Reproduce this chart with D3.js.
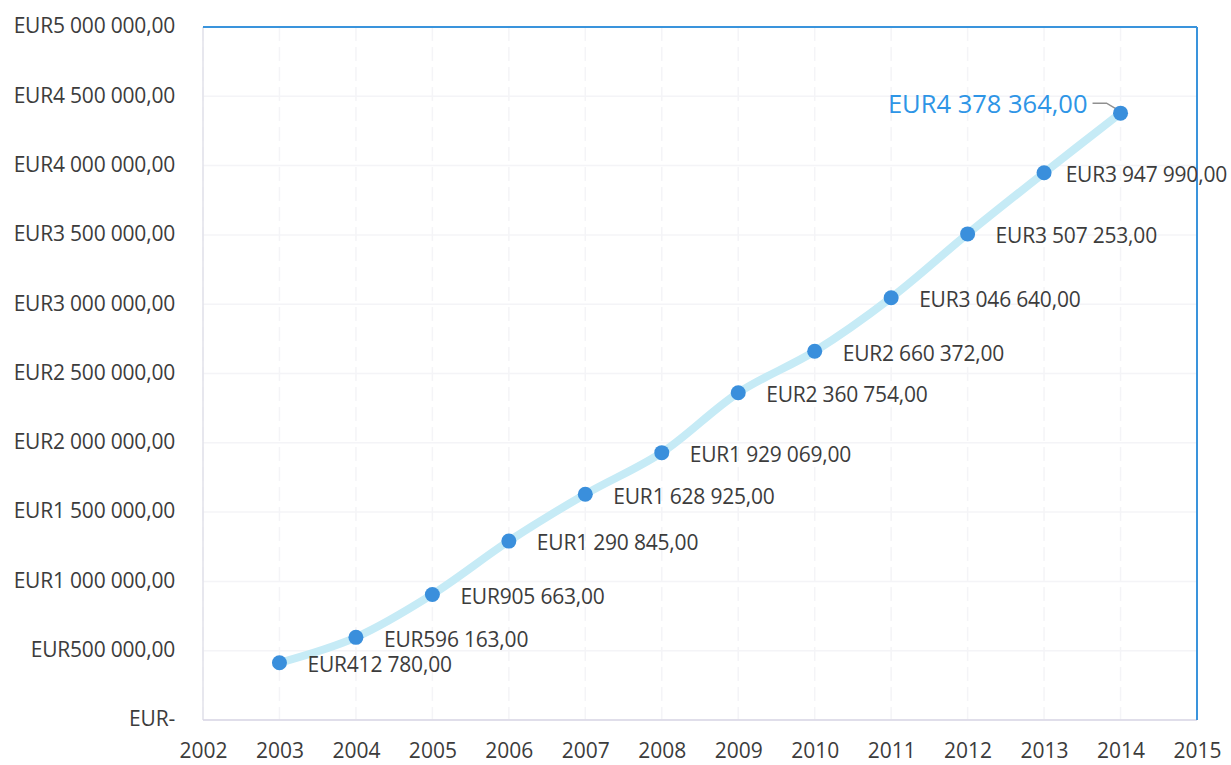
<!DOCTYPE html>
<html lang="en">
<head>
  <meta charset="UTF-8">
  <title>EUR</title>
  <script src="https://d3js.org/d3.v7.min.js" charset="utf-8"></script>
  <style>
    body { margin: 0; background: #fff; }
  </style>
</head>
<body>
  <div id="wrapper"></div>
  <script>
    const years = [2003, 2004, 2005, 2006, 2007, 2008, 2009, 2010, 2011, 2012, 2013, 2014]
    const values = [412780, 596163, 905663, 1290845, 1628925, 1929069, 2360754, 2660372, 3046640, 3507253, 3947990, 4378364]
    const xTicks = [2002, 2003, 2004, 2005, 2006, 2007, 2008, 2009, 2010, 2011, 2012, 2013, 2014, 2015]
    const yTicks = [0, 500000, 1000000, 1500000, 2000000, 2500000, 3000000, 3500000, 4000000, 4500000, 5000000]

    const dataset = years.map((y, i) => ({ year: y, value: values[i] }))

    const fmt = v => {
      if (v === 0) return 'EUR-'
      const s = Math.round(v).toString().replace(/\B(?=(\d{3})+(?!\d))/g, ' ')
      return 'EUR' + s + ',00'
    }

    const dimensions = {
      width: 1231,
      height: 765,
      margin: { top: 27, right: 34, bottom: 45, left: 203 },
    }
    dimensions.boundedWidth = dimensions.width - dimensions.margin.left - dimensions.margin.right
    dimensions.boundedHeight = dimensions.height - dimensions.margin.top - dimensions.margin.bottom

    const wrapper = d3.select('#wrapper')
      .append('svg')
        .attr('width', dimensions.width)
        .attr('height', dimensions.height)
        .style('font-family', '"Open Sans", "Noto Sans", sans-serif')

    const bounds = wrapper.append('g')
      .attr('transform', `translate(${dimensions.margin.left}, ${dimensions.margin.top})`)

    const xScale = d3.scaleLinear()
      .domain([2002, 2015])
      .range([0, dimensions.boundedWidth])

    const yScale = d3.scaleLinear()
      .domain([0, 5000000])
      .range([dimensions.boundedHeight, 0])

    // grid (very faint)
    bounds.append('g').selectAll('line')
      .data(yTicks)
      .join('line')
        .attr('x1', 0).attr('x2', dimensions.boundedWidth)
        .attr('y1', d => yScale(d)).attr('y2', d => yScale(d))
        .attr('stroke', '#f4f4f7')
        .attr('stroke-width', 1.5)

    bounds.append('g').selectAll('line')
      .data(xTicks)
      .join('line')
        .attr('x1', d => xScale(d)).attr('x2', d => xScale(d))
        .attr('y1', 0).attr('y2', dimensions.boundedHeight)
        .attr('stroke', '#f4f4f7')
        .attr('stroke-width', 1.5)
        .attr('stroke-dasharray', '14 6')

    // frame: left/bottom faint, top/right blue
    bounds.append('line')
      .attr('x1', 0).attr('x2', 0).attr('y1', 0).attr('y2', dimensions.boundedHeight)
      .attr('stroke', '#e2e2ea').attr('stroke-width', 1.5)
    bounds.append('line')
      .attr('x1', 0).attr('x2', dimensions.boundedWidth)
      .attr('y1', dimensions.boundedHeight).attr('y2', dimensions.boundedHeight)
      .attr('stroke', '#d8d6e4').attr('stroke-width', 1.5)
    bounds.append('line')
      .attr('x1', 0).attr('x2', dimensions.boundedWidth).attr('y1', 0).attr('y2', 0)
      .attr('stroke', '#3a94dc').attr('stroke-width', 2)
    bounds.append('line')
      .attr('x1', dimensions.boundedWidth).attr('x2', dimensions.boundedWidth)
      .attr('y1', 0).attr('y2', dimensions.boundedHeight)
      .attr('stroke', '#3a94dc').attr('stroke-width', 2)

    // axes
    const yAxis = bounds.append('g')
      .call(d3.axisLeft(yScale).tickValues(yTicks).tickFormat(fmt).tickSize(0).tickPadding(28))
    yAxis.select('.domain').remove()
    yAxis.selectAll('text')
      .attr('font-size', 21)
      .attr('fill', '#3c3c3c')
      .attr('letter-spacing', -0.2)
      .attr('dy', '0.28em')
      .style('font-family', '"Open Sans", "Noto Sans", sans-serif')

    const xAxis = bounds.append('g')
      .attr('transform', `translate(0, ${dimensions.boundedHeight})`)
      .call(d3.axisBottom(xScale).tickValues(xTicks).tickFormat(d3.format('d')).tickSize(0).tickPadding(23))
    xAxis.select('.domain').remove()
    xAxis.selectAll('text')
      .attr('font-size', 21)
      .attr('fill', '#3c3c3c')
      .style('font-family', '"Open Sans", "Noto Sans", sans-serif')

    // line
    const lineGenerator = d3.line()
      .x(d => xScale(d.year))
      .y(d => yScale(d.value))
      .curve(d3.curveCatmullRom.alpha(0.5))

    bounds.append('path')
      .attr('d', lineGenerator(dataset))
      .attr('fill', 'none')
      .attr('stroke', '#c6ebf6')
      .attr('stroke-width', 8)
      .attr('stroke-linecap', 'round')

    // leader line for last label
    const last = dataset[dataset.length - 1]
    const lx = xScale(last.year), ly = yScale(last.value)
    bounds.append('path')
      .attr('d', `M${lx - 28},${ly - 10} L${lx - 14},${ly - 10} L${lx - 4},${ly - 4}`)
      .attr('fill', 'none')
      .attr('stroke', '#909090')
      .attr('stroke-width', 1.5)

    // points
    bounds.append('g').selectAll('circle')
      .data(dataset)
      .join('circle')
        .attr('cx', d => xScale(d.year))
        .attr('cy', d => yScale(d.value))
        .attr('r', 7.5)
        .attr('fill', '#3a8fdc')

    // labels, kept inside the page on the right
    const maxRight = dimensions.width - dimensions.margin.left - 4
    bounds.append('g').selectAll('text')
      .data(dataset.slice(0, -1))
      .join('text')
        .attr('y', d => yScale(d.value) + 2)
        .attr('dy', '0.35em')
        .attr('font-size', 21)
        .attr('letter-spacing', -0.2)
        .attr('fill', '#3c3c3c')
        .text(d => fmt(d.value))
        .attr('x', function (d) {
          const w = this.getComputedTextLength()
          return Math.min(xScale(d.year) + 28, maxRight - w)
        })

    bounds.append('text')
      .attr('x', lx - 33)
      .attr('y', ly - 9)
      .attr('dy', '0.35em')
      .attr('text-anchor', 'end')
      .attr('font-size', 25.5)
      .attr('fill', '#2e95e6')
      .text(fmt(last.value))
  </script>
</body>
</html>
